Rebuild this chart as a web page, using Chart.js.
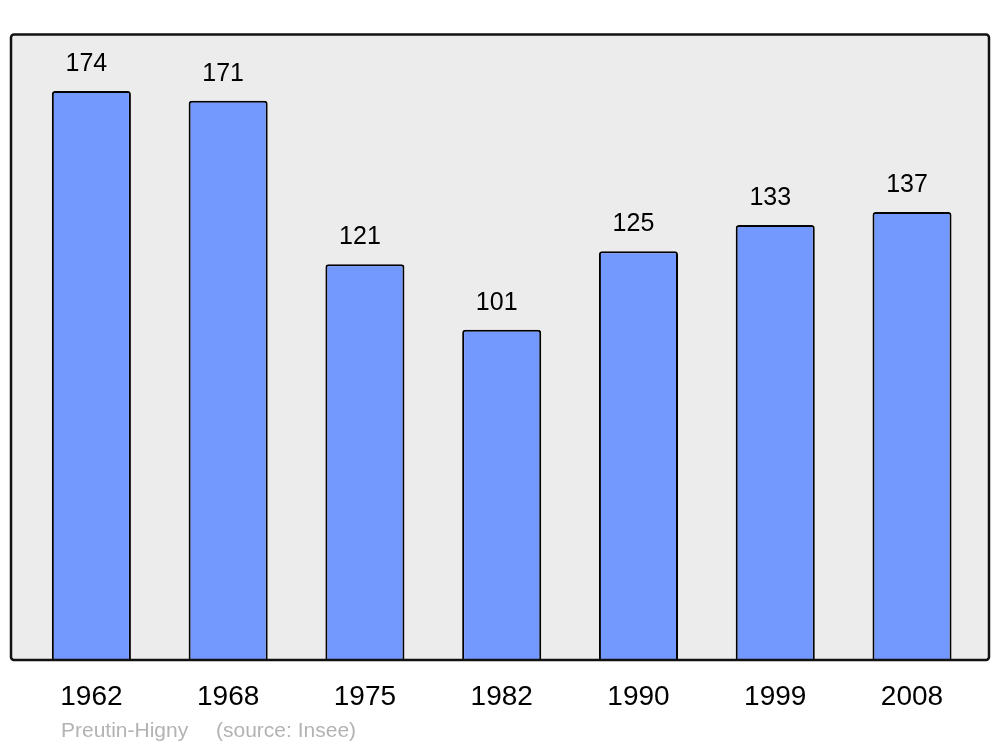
<!DOCTYPE html>
<html>
<head>
<meta charset="utf-8">
<script src="https://cdn.jsdelivr.net/npm/chart.js@4/dist/chart.umd.min.js"></script>
<style>
  body { margin: 0; background: #fff; }
</style>
</head>
<body>
<canvas id="popChart" width="1000" height="747"></canvas>
<script>
let years = ["1962", "1968", "1975", "1982", "1990", "1999", "2008"];
let population = [174, 171, 121, 101, 125, 133, 137];
let commune = "Preutin-Higny";
let source = "(source: Insee)";

const FONT = "'Liberation Sans', Arial, sans-serif";

/* box behind the bars, border on top, values above bars, footer */
const decor = {
    id: "decor",
    beforeDatasetsDraw(chart) {
        const ctx = chart.ctx;
        const a = chart.chartArea;
        ctx.save();
        ctx.fillStyle = "#ececec";
        ctx.beginPath();
        ctx.roundRect(11, 34.5, 978, a.bottom - 34.5, 3);
        ctx.fill();
        ctx.restore();
    },
    afterDatasetsDraw(chart) {
        const ctx = chart.ctx;
        const a = chart.chartArea;
        ctx.save();
        ctx.strokeStyle = "#111";
        ctx.lineWidth = 2.5;
        ctx.beginPath();
        ctx.roundRect(11, 34.5, 978, a.bottom - 34.5, 3);
        ctx.stroke();

        ctx.fillStyle = "#000";
        ctx.font = "25px " + FONT;
        ctx.textAlign = "center";
        ctx.textBaseline = "middle";
        chart.getDatasetMeta(0).data.forEach((bar, i) => {
            ctx.fillText(population[i], bar.x - 5, bar.y - 27);
        });

        ctx.fillStyle = "#b3b3b3";
        ctx.font = "21px " + FONT;
        ctx.textAlign = "left";
        ctx.textBaseline = "alphabetic";
        ctx.fillText(commune, 61, 737);
        ctx.fillText(source, 216, 737);
        ctx.restore();
    }
};

new Chart(document.getElementById("popChart"), {
    type: "bar",
    data: {
        labels: years,
        datasets: [{
            data: population,
            backgroundColor: "#7399ff",
            borderColor: "#000",
            borderWidth: 2,
            borderRadius: 3,
            categoryPercentage: 1,
            barPercentage: 0.578
        }]
    },
    options: {
        responsive: false,
        animation: false,
        layout: { padding: { left: 23, right: 19.6, top: 34, bottom: 0 } },
        plugins: {
            legend: { display: false },
            tooltip: { enabled: false }
        },
        scales: {
            y: { display: false, min: 0, max: 191.4 },
            x: {
                grid: { display: false, drawTicks: false },
                border: { display: false },
                ticks: {
                    color: "#000",
                    padding: 20,
                    font: { family: FONT, size: 28 }
                },
                afterFit(scale) { scale.height = 87; }
            }
        }
    },
    plugins: [decor]
});
</script>
</body>
</html>
